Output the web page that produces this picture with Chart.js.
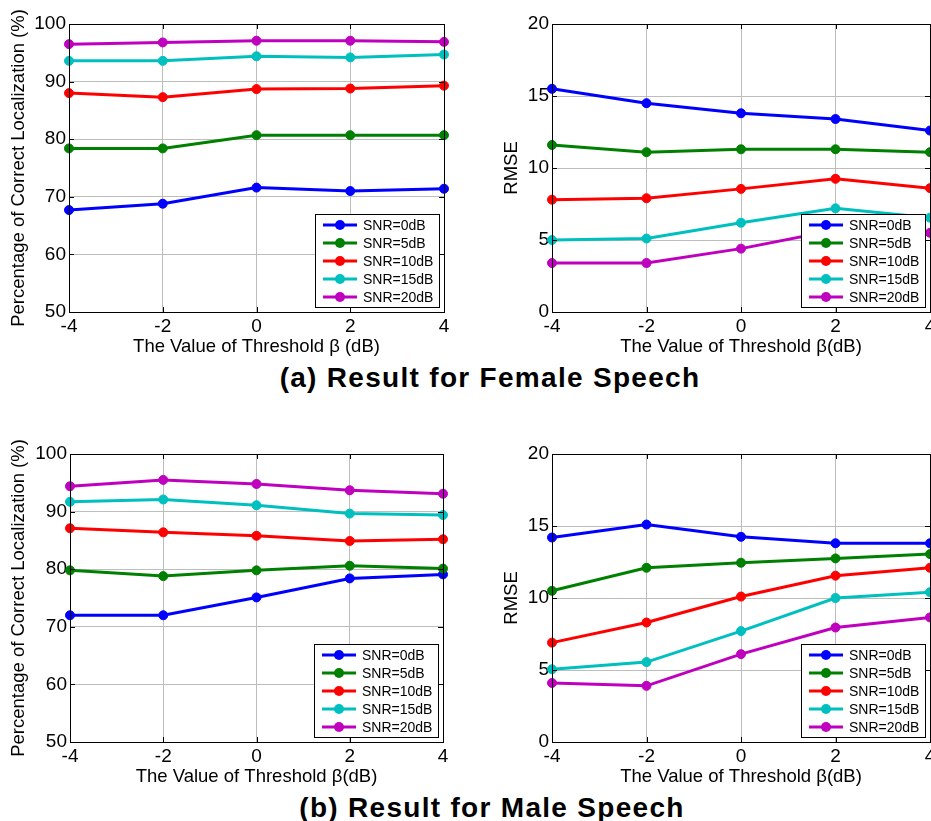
<!DOCTYPE html>
<html>
<head>
<meta charset="utf-8">
<script src="https://cdn.jsdelivr.net/npm/chart.js@4"></script>
<style>
	body { margin: 0; width: 931px; height: 821px; overflow: hidden; background: #fff; position: relative; font-family: "Liberation Sans", Arial, sans-serif; }
	.box { position: absolute; }
	.title { position: absolute; width: 600px; text-align: center; font-family: "Liberation Sans", Arial, sans-serif; font-weight: 700; font-size: 28px; line-height: 28px; letter-spacing: 1.3px; color: #000; white-space: nowrap; }
</style>
</head>
<body>
<div class="box" style="left:0px;top:0px"><canvas id="c1" width="460" height="360"></canvas></div>
<div class="box" style="left:470px;top:0px"><canvas id="c2" width="480" height="360"></canvas></div>
<div class="title" style="left:190px;top:364px">(a) Result for Female Speech</div>
<div class="box" style="left:0px;top:430px"><canvas id="c3" width="460" height="360"></canvas></div>
<div class="box" style="left:470px;top:430px"><canvas id="c4" width="480" height="360"></canvas></div>
<div class="title" style="left:192px;top:794px">(b) Result for Male Speech</div>
<script>
const thresholds = [-4, -2, 0, 2, 4];
const snrLabels = ["SNR=0dB", "SNR=5dB", "SNR=10dB", "SNR=15dB", "SNR=20dB"];
const snrColors = ["#0000ff", "#008000", "#ff0000", "#00bfbf", "#bf00bf"];

// female speech, percentage of correct localization
const femaleAcc0 = [67.7, 68.8, 71.6, 71.0, 71.4];
const femaleAcc5 = [78.4, 78.4, 80.7, 80.7, 80.7];
const femaleAcc10 = [88.0, 87.3, 88.7, 88.8, 89.3];
const femaleAcc15 = [93.6, 93.6, 94.4, 94.2, 94.7];
const femaleAcc20 = [96.5, 96.8, 97.1, 97.1, 96.9];

// female speech, RMSE
const femaleRmse0 = [15.5, 14.5, 13.8, 13.4, 12.6];
const femaleRmse5 = [11.6, 11.1, 11.3, 11.3, 11.1];
const femaleRmse10 = [7.8, 7.9, 8.55, 9.25, 8.6];
const femaleRmse15 = [5.0, 5.1, 6.2, 7.2, 6.55];
const femaleRmse20 = [3.4, 3.4, 4.4, 5.7, 5.5];

// male speech, percentage of correct localization
const maleAcc0 = [72.0, 72.0, 75.1, 78.4, 79.1];
const maleAcc5 = [79.8, 78.8, 79.8, 80.6, 80.1];
const maleAcc10 = [87.1, 86.4, 85.8, 84.9, 85.2];
const maleAcc15 = [91.7, 92.1, 91.1, 89.65, 89.4];
const maleAcc20 = [94.4, 95.5, 94.8, 93.7, 93.1];

// male speech, RMSE
const maleRmse0 = [14.2, 15.1, 14.25, 13.8, 13.8];
const maleRmse5 = [10.5, 12.1, 12.45, 12.75, 13.05];
const maleRmse10 = [6.9, 8.3, 10.1, 11.55, 12.1];
const maleRmse15 = [5.05, 5.55, 7.7, 10.0, 10.4];
const maleRmse20 = [4.1, 3.9, 6.1, 7.95, 8.65];

const fontName = "'Liberation Sans', Arial, sans-serif";

// black box round the plot with small inward ticks, like matlab
const frame = {
	id: "frame",
	afterDraw(chart) {
		let ctx = chart.ctx;
		let a = chart.chartArea;
		let xs = chart.scales.x;
		let ys = chart.scales.y;
		ctx.save();
		ctx.strokeStyle = "#000";
		ctx.lineWidth = 1;
		ctx.strokeRect(Math.round(a.left) + 0.5, Math.round(a.top) + 0.5, Math.round(a.right - a.left), Math.round(a.bottom - a.top));
		ctx.beginPath();
		xs.ticks.forEach(t => {
			let px = Math.round(xs.getPixelForValue(t.value)) + 0.5;
			ctx.moveTo(px, a.bottom); ctx.lineTo(px, a.bottom - 5);
			ctx.moveTo(px, a.top); ctx.lineTo(px, a.top + 5);
		});
		ys.ticks.forEach(t => {
			let py = Math.round(ys.getPixelForValue(t.value)) + 0.5;
			ctx.moveTo(a.left, py); ctx.lineTo(a.left + 5, py);
			ctx.moveTo(a.right, py); ctx.lineTo(a.right - 5, py);
		});
		ctx.stroke();
		ctx.restore();
	}
};

// legend box inside the lower right corner of the plot
const boxLegend = {
	id: "boxLegend",
	afterDraw(chart) {
		let ctx = chart.ctx;
		let a = chart.chartArea;
		let w = 124, h = 93;
		let x = Math.round(a.right) - 5 - w;
		let y = Math.round(a.bottom) - 5 - h;
		ctx.save();
		ctx.fillStyle = "#fff";
		ctx.fillRect(x, y, w, h);
		ctx.strokeStyle = "#000";
		ctx.lineWidth = 1;
		ctx.strokeRect(x + 0.5, y + 0.5, w, h);
		ctx.font = "14px " + fontName;
		ctx.textBaseline = "middle";
		chart.data.datasets.forEach((ds, i) => {
			let cy = y + 11 + i * 18;
			ctx.strokeStyle = ds.borderColor;
			ctx.lineWidth = 3;
			ctx.beginPath();
			ctx.moveTo(x + 8, cy);
			ctx.lineTo(x + 42, cy);
			ctx.stroke();
			ctx.fillStyle = ds.borderColor;
			ctx.beginPath();
			ctx.arc(x + 25, cy, 5, 0, Math.PI * 2);
			ctx.fill();
			ctx.fillStyle = "#000";
			ctx.fillText(ds.label, x + 48, cy + 1);
		});
		ctx.restore();
	}
};

function makeChart(id, series, yTitle, xTitle, yMin, yMax, yStep, axisWidth, yTitlePad, padRight) {
	let datasets = series.map((vals, i) => ({
		label: snrLabels[i],
		data: thresholds.map((t, k) => ({ x: t, y: vals[k] })),
		borderColor: snrColors[i],
		backgroundColor: snrColors[i],
		pointBackgroundColor: snrColors[i],
		pointBorderColor: snrColors[i],
		pointRadius: 4.5,
		pointBorderWidth: 1,
		borderWidth: 3,
		showLine: true,
		clip: false,
		order: 5 - i
	}));
	let ctx = document.getElementById(id).getContext("2d");
	return new Chart(ctx, {
		type: "scatter",
		data: { datasets },
		options: {
			responsive: false,
			animation: false,
			events: [],
			layout: { padding: { top: 24, right: padRight, left: 0, bottom: 0 } },
			plugins: { legend: { display: false }, tooltip: { enabled: false } },
			scales: {
				x: {
					type: "linear",
					min: -4,
					max: 4,
					afterFit: s => { s.height = 48; },
					ticks: { stepSize: 2, color: "#000", padding: 3, font: { family: fontName, size: 19 } },
					grid: { color: "#bdbdbd", drawTicks: false },
					border: { display: false },
					title: { display: true, text: xTitle, color: "#000", padding: { top: 0, bottom: 2 }, font: { family: fontName, size: 18.5 } }
				},
				y: {
					min: yMin,
					max: yMax,
					afterFit: s => { s.width = axisWidth; },
					ticks: { stepSize: yStep, color: "#000", padding: 3, font: { family: fontName, size: 19 } },
					grid: { color: "#bdbdbd", drawTicks: false },
					border: { display: false },
					title: { display: true, text: yTitle, color: "#000", padding: { top: yTitlePad, bottom: 0 }, font: { family: fontName, size: 18.5 } }
				}
			}
		},
		plugins: [frame, boxLegend]
	});
}

const accTitle = "Percentage of Correct Localization (%)";

window.chart1 = makeChart("c1", [femaleAcc0, femaleAcc5, femaleAcc10, femaleAcc15, femaleAcc20],
	accTitle, "The Value of Threshold \u03b2 (dB)", 50, 100, 10, 69, 8, 16);
window.chart2 = makeChart("c2", [femaleRmse0, femaleRmse5, femaleRmse10, femaleRmse15, femaleRmse20],
	"RMSE", "The Value of Threshold \u03b2(dB)", 0, 20, 5, 82, 31, 20);
window.chart3 = makeChart("c3", [maleAcc0, maleAcc5, maleAcc10, maleAcc15, maleAcc20],
	accTitle, "The Value of Threshold \u03b2(dB)", 50, 100, 10, 70, 8, 17);
window.chart4 = makeChart("c4", [maleRmse0, maleRmse5, maleRmse10, maleRmse15, maleRmse20],
	"RMSE", "The Value of Threshold \u03b2(dB)", 0, 20, 5, 82, 31, 20);
</script>
</body>
</html>
